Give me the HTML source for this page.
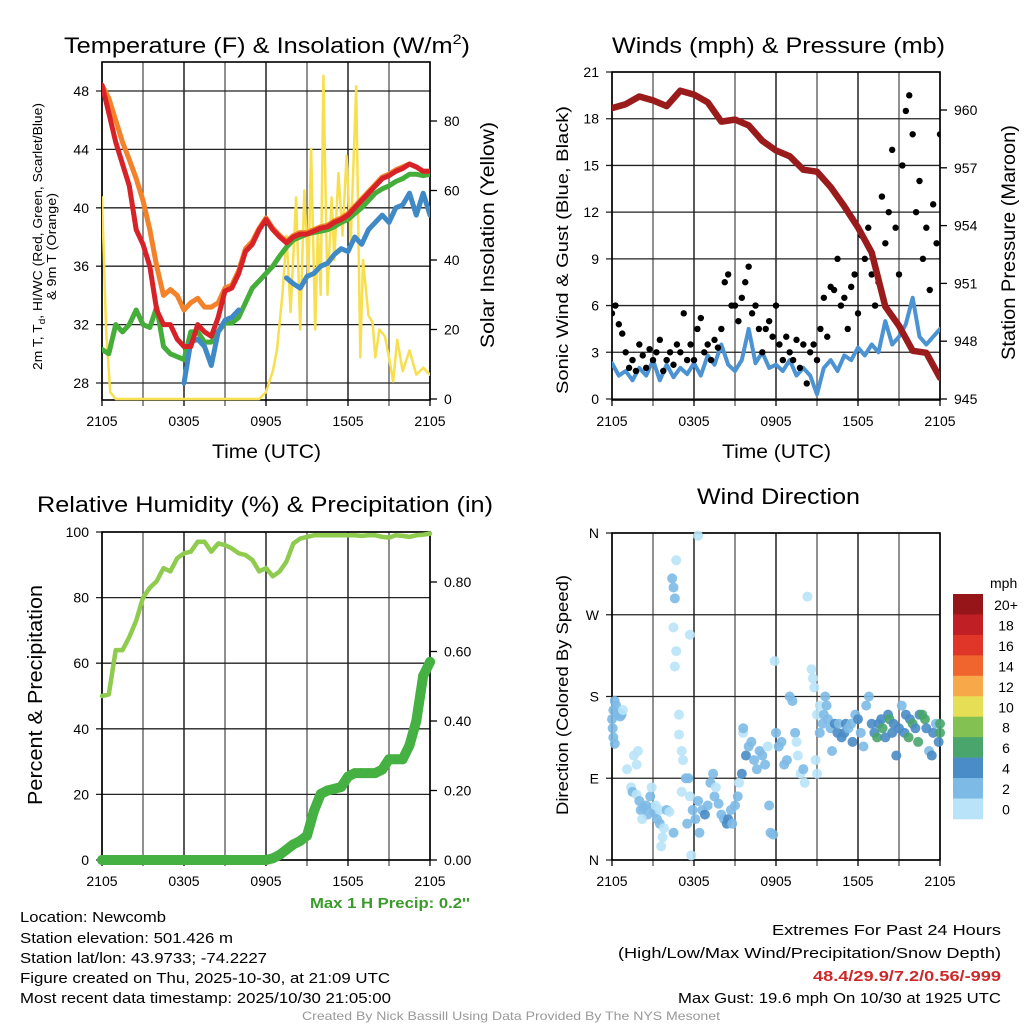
<!DOCTYPE html>
<html><head><meta charset="utf-8"><style>
body{margin:0;background:#fff;}
svg{display:block;font-family:"Liberation Sans",Arial,sans-serif;}
</style></head><body>
<svg id="chart" width="1024" height="1024" viewBox="0 0 1024 1024" xmlns="http://www.w3.org/2000/svg">
<rect width="1024" height="1024" fill="#fff"/>
<g id="layer"></g>
<g id="texts" fill="#000">
<text x="64" y="53" font-size="22" textLength="406" lengthAdjust="spacingAndGlyphs">Temperature (F) &amp; Insolation (W/m<tspan font-size="14" dy="-9">2</tspan><tspan dy="9">)</tspan></text>
<text x="612" y="53" font-size="22" textLength="333" lengthAdjust="spacingAndGlyphs">Winds (mph) &amp; Pressure (mb)</text>
<text x="37" y="512" font-size="22" textLength="456" lengthAdjust="spacingAndGlyphs">Relative Humidity (%) &amp; Precipitation (in)</text>
<text x="697" y="504" font-size="22" textLength="163" lengthAdjust="spacingAndGlyphs">Wind Direction</text>
<text x="212" y="458" font-size="19" textLength="109" lengthAdjust="spacingAndGlyphs">Time (UTC)</text>
<text x="722" y="458" font-size="19" textLength="109" lengthAdjust="spacingAndGlyphs">Time (UTC)</text>
<text transform="translate(42,370) rotate(-90)" font-size="12.5" textLength="267" lengthAdjust="spacingAndGlyphs">2m T, T<tspan font-size="9" dy="3">d</tspan><tspan dy="-3">, HI/WC (Red, Green, Scarlet/Blue)</tspan></text>
<text transform="translate(56,300) rotate(-90)" font-size="12.5" textLength="107" lengthAdjust="spacingAndGlyphs">&amp; 9m T (Orange)</text>
<text transform="translate(494,348) rotate(-90)" font-size="19" textLength="226" lengthAdjust="spacingAndGlyphs">Solar Insolation (Yellow)</text>
<text transform="translate(568,394) rotate(-90)" font-size="17" textLength="288" lengthAdjust="spacingAndGlyphs">Sonic Wind &amp; Gust (Blue, Black)</text>
<text transform="translate(1015,360) rotate(-90)" font-size="19" textLength="235" lengthAdjust="spacingAndGlyphs">Station Pressure (Maroon)</text>
<text transform="translate(42,805) rotate(-90)" font-size="20" textLength="220" lengthAdjust="spacingAndGlyphs">Percent &amp; Precipitation</text>
<text transform="translate(568,815) rotate(-90)" font-size="17" textLength="240" lengthAdjust="spacingAndGlyphs">Direction (Colored By Speed)</text>
<text x="310" y="908" font-size="15" font-weight="bold" fill="#3a9a2a" textLength="160" lengthAdjust="spacingAndGlyphs">Max 1 H Precip: 0.2''</text>
<text x="990" y="588" font-size="14">mph</text>
<text x="20" y="922" font-size="15" textLength="146" lengthAdjust="spacingAndGlyphs">Location: Newcomb</text>
<text x="20" y="943" font-size="15" textLength="213" lengthAdjust="spacingAndGlyphs">Station elevation: 501.426 m</text>
<text x="20" y="963" font-size="15" textLength="247" lengthAdjust="spacingAndGlyphs">Station lat/lon: 43.9733; -74.2227</text>
<text x="20" y="983" font-size="15" textLength="370" lengthAdjust="spacingAndGlyphs">Figure created on Thu, 2025-10-30, at 21:09 UTC</text>
<text x="20" y="1003" font-size="15" textLength="371" lengthAdjust="spacingAndGlyphs">Most recent data timestamp: 2025/10/30 21:05:00</text>
<text x="772" y="935" font-size="15" textLength="229" lengthAdjust="spacingAndGlyphs">Extremes For Past 24 Hours</text>
<text x="618" y="958" font-size="15" textLength="383" lengthAdjust="spacingAndGlyphs">(High/Low/Max Wind/Precipitation/Snow Depth)</text>
<text x="813" y="981" font-size="15" font-weight="bold" fill="#cc2a2a" textLength="188" lengthAdjust="spacingAndGlyphs">48.4/29.9/7.2/0.56/-999</text>
<text x="678" y="1003" font-size="15" textLength="323" lengthAdjust="spacingAndGlyphs">Max Gust: 19.6 mph On 10/30 at 1925 UTC</text>
<text x="302" y="1020" font-size="12" fill="#999" textLength="418" lengthAdjust="spacingAndGlyphs">Created By Nick Bassill Using Data Provided By The NYS Mesonet</text>
</g>
</svg>
<script>
// ---- data ----
var xTickLabels=["2105","0305","0905","1505","2105"];
var tempTicks=[28,32,36,40,44,48];
var insolTicks=[0,20,40,60,80];
var windTicks=[0,3,6,9,12,15,18,21];
var presTicks=[945,948,951,954,957,960];
var rhTicks=[0,20,40,60,80,100];
var precTicks=[0,0.2,0.4,0.6,0.8];
var precTickLabels=["0.00","0.20","0.40","0.60","0.80"];
var dirTicks=[0,90,180,270,360];
var dirTickLabels=["N","E","S","W","N"];
var speedBins=["0","2","4","6","8","10","12","14","16","18","20+"];
var speedColors=["#b8e3f8","#7dbae6","#4a8cc6","#4aa56c","#82c152","#e6df55","#f7a94a","#f0652d","#e0362a","#c11f26","#951518"];
var tempRed=[48.4,46.5,44.5,43,41.5,38.5,37.5,36,33,32,32,31,30.5,30.5,32,31.5,31.2,32.5,34.3,34.5,35.5,37,37.5,38.5,39.2,38.5,38,37.6,38,38.2,38.2,38.4,38.6,38.7,39,39.2,39.5,40,40.5,41,41.5,42,42.2,42.5,42.7,43,42.8,42.5,42.5];
var tempOrange=[48.4,47.5,46,44.5,43.3,42,40.5,38.5,36,34,34.4,34,33,33.5,33.8,33.2,33.2,33.5,34.5,34.7,35.7,37.2,37.7,38.6,39.3,38.6,38.1,37.7,38.1,38.3,38.3,38.5,38.7,38.8,39.1,39.3,39.6,40.1,40.6,41.1,41.6,42.1,42.3,42.6,42.8,43,42.8,42.5,42.5];
var tempGreen=[30.3,30,32,31.5,32,33,32,31.8,33.2,30.5,30,29.8,29.6,31.5,31.5,30.8,30.8,31.5,32.1,32.1,32.5,33.5,34.5,35,35.5,36,36.7,37.3,37.8,38,38.2,38.3,38.4,38.5,38.7,39,39.2,39.6,40,40.5,41,41.3,41.5,41.8,42,42.3,42.3,42.2,42.3];
var tempBlue=[null,null,null,null,null,null,null,null,null,null,null,null,28,30.8,31,30.5,29.2,31.5,32.3,32.5,33,null,null,null,null,null,null,35.2,34.8,34.5,35.3,35.5,36,36.2,36.8,37.2,37,38,37.5,38.5,39,39.5,39,40,40.2,41,39.5,41,39.5];
var insolHours=[0,0.3,0.6,1,11.5,12,12.5,12.8,13.2,13.5,13.8,14.2,14.5,14.8,15.1,15.3,15.6,15.8,16,16.2,16.5,16.8,17,17.3,17.6,17.9,18.2,18.6,18.9,19.1,19.5,19.8,20,20.3,20.7,21,21.3,21.6,22,22.5,23,23.5,24];
var insolVals=[58,20,2,0,0,2,8,14,30,47,25,58,20,60,35,72,20,49,30,93,30,58,40,65,47,70,45,90,12,40,24,22,12,20,18,12,5,17,8,14,7,9,7];
var windSonic=[2.3,1.5,1.8,1.2,2.0,1.5,2.5,1.2,2.2,1.4,2.0,1.6,2.3,1.5,2.8,2.2,3.5,2.2,1.8,2.5,4.5,2.3,3.0,2.0,2.2,1.8,2.5,1.5,2.0,1.5,0.3,2.0,2.5,1.8,2.8,2.5,3.3,2.8,3.5,3.0,5.0,3.5,4.0,4.8,6.5,4.0,3.5,4.0,4.5];
var windGust=[5.5,6,4.8,4.2,3,2,2.5,1.8,3.5,2.8,2,3.2,2.5,3,3.8,1.8,2.5,3,2.2,3.5,3,5.5,2.5,3.5,2.5,4.5,5.2,3,3.5,2.5,3.8,3.3,4.5,7.5,8,6,6,5,6.5,7.5,8.5,5.5,6,4.5,3,4.5,5,4,6,3.5,2.5,4,3,2.5,3.8,2,3.5,1,3,3.5,2.5,4.5,6.5,4,7.2,7,9,6,6.5,4.5,7.2,8,5.5,10.5,9,11,8,6,7.5,13,10,12,16,11,8,15,18.5,19.5,17,12,14,9,11,7,12.5,10,17];
var pressure=[960.1,960.3,960.7,960.5,960.2,961,960.8,960.4,959.4,959.5,959.2,958.4,957.9,957.6,956.9,956.8,956,955,953.9,952.6,949.8,948.8,947.5,947.4,946.1];
var rh=[50,50.5,64,64,68,73,80,83,85,89,88,92,93.5,94,97,97,94,96.5,96,95,93.5,93,91.5,88,89,86.5,88,91,96.5,98,98.5,99,99,99,99,99,99,99,98.8,99,99,98.5,98.3,99,98.8,98.5,99,99.2,99.5];
var precip=[0,0,0,0,0,0,0,0,0,0,0,0,0,0,0,0,0,0,0,0,0,0,0,0,0,0.005,0.015,0.03,0.045,0.055,0.07,0.14,0.19,0.2,0.205,0.21,0.24,0.25,0.25,0.25,0.25,0.26,0.29,0.29,0.29,0.33,0.4,0.53,0.57];
var dirHours=[0,0.05,0.1,0.2,0.3,0.4,0.5,0.6,0.7,0.1,0.2,0.8,1.6,1.8,1.9,1.1,1.4,1.5,1.8,2,2.1,2.3,2.5,2.6,2.2,2.8,3,3.1,3.3,3.5,2.9,3.5,3.2,3.8,3.7,3.6,4,4.2,4.5,4.4,4.5,4.6,4.7,4.5,5.7,4.7,4.6,6.3,4.9,4.9,5.1,5.2,5.1,5.4,5.6,5.7,5.5,5.9,6.1,6.3,5.8,6.4,6.6,6.8,7,7.2,7.4,7.5,7.6,7.8,8,8.2,8.4,8.5,8.7,8.8,9,9.2,9.3,9.5,9.6,9.6,9.8,10,10.2,10.4,10.6,10.8,11,11.2,11.4,11.5,11.6,11.8,11.9,12,12.2,12.4,12.6,12.8,13,13.2,13.4,13.5,13.6,13.8,14,14.1,14.3,14.6,14.7,14.8,14.9,15,15,15.2,15.2,15.4,15.5,15.6,15.7,15.8,16,16.1,16.3,16.5,16.6,16.8,17,17.1,17.3,17.5,17.6,17.8,18,18.2,18.4,18.6,18.8,19,19.2,19.4,19.5,19.7,19.8,20,20.2,20.3,20.5,20.6,20.8,21,21.2,21.4,21.5,21.7,21.8,22,22.2,22.4,22.5,22.7,22.9,23,23.2,23.4,23.5,23.7,23.9,24,24];
var dirDeg=[155,145,165,175,170,160,162,158,160,135,128,165,115,105,120,100,80,75,72,65,55,58,60,50,45,70,58,52,45,40,80,55,60,35,25,15,55,53,30,310,300,288,330,256,248,230,213,357,160,138,120,110,75,90,90,70,40,55,45,65,5,30,55,50,60,85,95,70,80,62,50,45,40,45,55,40,60,70,85,95,140,145,115,125,130,110,100,120,115,105,125,60,30,28,219,140,125,130,105,110,180,175,140,130,115,95,100,85,290,210,200,190,110,95,160,170,140,150,160,180,170,155,145,120,150,140,150,135,140,150,145,150,130,160,155,140,125,170,180,150,140,135,150,155,145,135,160,155,140,150,115,145,170,140,160,135,155,150,145,130,160,160,155,145,120,115,140,150,130,150,140];
var dirSpd=[3,3,3,3,3,3,3,3,3,3,3,1,1,1,1,1,1,3,1,3,3,3,3,3,1,3,3,3,3,3,1,1,1,1,1,1,3,1,3,3,3,3,1,1,1,1,1,1,1,1,1,1,1,3,3,1,3,3,3,3,1,3,3,5,3,3,3,3,1,3,3,3,5,5,3,3,3,3,1,5,1,3,5,3,3,3,3,3,3,3,1,3,3,3,1,3,3,3,3,3,3,3,3,1,1,1,3,1,1,1,1,1,1,1,1,1,3,3,3,3,3,3,3,3,5,5,3,5,5,5,3,3,5,3,5,3,3,3,3,5,5,7,5,5,7,5,5,7,5,5,5,5,3,5,5,7,5,7,5,7,5,7,7,5,3,5,5,3,5,7,7];

var NS='http://www.w3.org/2000/svg';
var layer=document.getElementById('layer');
function mk(tag,attrs,parent){var e=document.createElementNS(NS,tag);for(var k in attrs)e.setAttribute(k,attrs[k]);(parent||layer).appendChild(e);return e;}
function lin(d0,d1,r0,r1){return function(v){return r0+(v-d0)*(r1-r0)/(d1-d0);};}
function panel(name,x0,y0,x1,y1){var g=mk('g',{});return {g:g,x0:x0,y0:y0,x1:x1,y1:y1,xs:lin(0,24,x0,x1)};}
function grid(p,yScale,ticks){
  for(var h=0;h<=24;h+=3){var l=mk('line',{x1:p.xs(h),x2:p.xs(h),y1:p.y0,y2:p.y1+6,stroke:(h%6?'#555':'#000'),'stroke-width':1.3},p.g);}
  ticks.forEach(function(t){var l=mk('line',{x1:p.x0-6,x2:p.x1,y1:yScale(t),y2:yScale(t),stroke:'#222','stroke-width':1.3},p.g);});
  var r=mk('rect',{x:p.x0,y:p.y0,width:p.x1-p.x0,height:p.y1-p.y0,fill:'none',stroke:'#000','stroke-width':1.6},p.g);
  xTickLabels.forEach(function(s,i){var t=mk('text',{x:p.xs(i*6),y:p.y1+26,'font-size':14,'text-anchor':'middle'},p.g);t.textContent=s;});
}
function yLabels(p,yScale,ticks,labels,side){
  ticks.forEach(function(t,i){var y=yScale(t);
    var x=side==='left'?p.x0-13:p.x1+14;
    if(side==='right'){var tk=mk('line',{x1:p.x1,x2:p.x1+7,y1:y,y2:y,stroke:'#000','stroke-width':1.3},p.g);}
    var tx=mk('text',{x:x,y:y+5,'font-size':14,'text-anchor':side==='left'?'end':'start'},p.g);tx.textContent=labels?labels[i]:t;
    });
}
function path(p,arr,xs,yScale,color,w,name,hours){
  var d='',pen=false;
  arr.forEach(function(v,i){var h=hours?hours[i]:i*24/(arr.length-1);if(v===null){pen=false;return;}d+=(pen?'L':'M')+xs(h).toFixed(1)+','+yScale(v).toFixed(1);pen=true;});
  var e=mk('path',{d:d,fill:'none',stroke:color,'stroke-width':w,'stroke-linejoin':'round','stroke-linecap':'round'},p.g);
  return e;
}
function clip(p,id){var c=mk('clipPath',{id:id});mk('rect',{x:p.x0,y:p.y0-2,width:p.x1-p.x0,height:p.y1-p.y0+4},c);}

var p1=panel('temperature-panel',102,62,430,400);
var tY=lin(28,48,383,91), iY=lin(0,80,399,121);
grid(p1,tY,tempTicks);yLabels(p1,tY,tempTicks,null,'left');yLabels(p1,iY,insolTicks,null,'right');
clip(p1,'c1');
var g1=mk('g',{'clip-path':'url(#c1)'},p1.g);var q1={g:g1};
path(q1,insolVals,p1.xs,iY,'#f7df4f',2.5,'insolation-line',insolHours);
path(q1,tempGreen,p1.xs,tY,'#45ad3a',5,'dewpoint-line');
path(q1,tempBlue,p1.xs,tY,'#3f8ac6',5,'windchill-line');
path(q1,tempOrange,p1.xs,tY,'#f3822a',5,'temp-9m-line');
path(q1,tempRed,p1.xs,tY,'#d72228',5,'temp-2m-line');

var p2=panel('wind-panel',612,72,940,400);
var wY=lin(0,21,399,72), pY=lin(945,960,399,110);
grid(p2,wY,windTicks);yLabels(p2,wY,windTicks,null,'left');yLabels(p2,pY,presTicks,null,'right');
clip(p2,'c2');
var g2=mk('g',{'clip-path':'url(#c2)'},p2.g);var q2={g:g2};
path(q2,windSonic,p2.xs,wY,'#4b93d2',4,'sonic-wind-line');
windGust.forEach(function(v,i){var c=mk('circle',{cx:p2.xs(i*0.25),cy:wY(v),r:3.2,fill:'#000'},g2);});
path(q2,pressure,p2.xs,pY,'#9a1b1c',6.5,'pressure-line');

var p3=panel('humidity-panel',102,532,430,860);
var rY=lin(0,100,860,532), prY=lin(0,0.8,860,582);
grid(p3,rY,rhTicks);yLabels(p3,rY,rhTicks,null,'left');yLabels(p3,prY,precTicks,precTickLabels,'right');
var g3=mk('g',{},p3.g);var q3={g:g3};
path(q3,rh,p3.xs,rY,'#8fcb4e',4.5,'rh-line');
path(q3,precip,p3.xs,prY,'#46b143',10,'precip-line');
precip.forEach(function(v,i){var c=mk('circle',{cx:p3.xs(i*0.5),cy:prY(v),r:5,fill:'#46b143'},g3);});

var p4=panel('direction-panel',612,533,940,860);
var dY=lin(0,360,860,533);
grid(p4,dY,dirTicks);yLabels(p4,dY,dirTicks,dirTickLabels,'left');
dirHours.forEach(function(h,i){var c=mk('circle',{cx:p4.xs(h),cy:dY(dirDeg[i]),r:5,fill:speedColors[Math.min(10,Math.floor(dirSpd[i]/2))],'fill-opacity':0.9},p4.g);});
var cb=mk('g',{});
speedBins.forEach(function(s,i){var k=10-i;var y=594+i*20.45;
  var r=mk('rect',{x:953,y:y,width:30,height:20.8,fill:speedColors[k]},cb);
  var t=mk('text',{x:1006,y:y+16,'font-size':14,'text-anchor':'middle'},cb);t.textContent=speedBins[k];});
</script>
</body></html>
